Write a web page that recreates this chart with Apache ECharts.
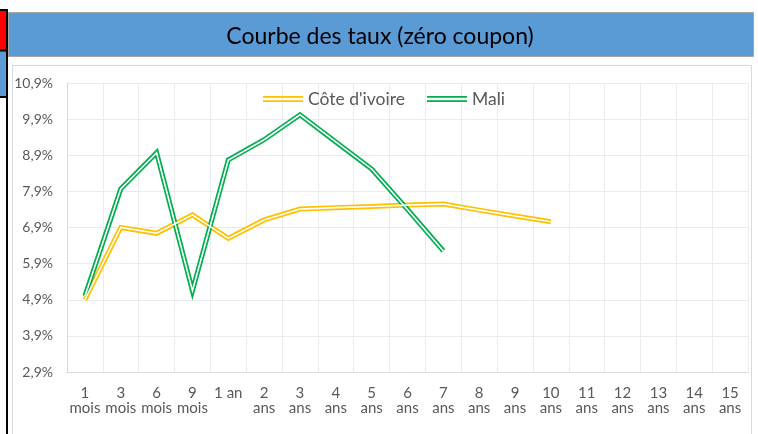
<!DOCTYPE html>
<html>
<head>
<meta charset="utf-8">
<script src="https://cdn.jsdelivr.net/npm/echarts@6/dist/echarts.min.js"></script>
<style>
  html, body { margin: 0; padding: 0; background: #fff; }
  #pic { width: 758px; height: 434px; }
</style>
</head>
<body>
<div id="pic"></div>
<script>
var categories = ['1\nmois', '3\nmois', '6\nmois', '9\nmois', '1 an', '2\nans', '3\nans', '4\nans', '5\nans',
  '6\nans', '7\nans', '8\nans', '9\nans', '10\nans', '11\nans', '12\nans', '13\nans', '14\nans', '15\nans'];
var civ = [4.9, 6.9, 6.74, 7.25, 6.6, 7.11, 7.41, 7.45, 7.48, 7.52, 7.55, 7.38, 7.22, 7.06];
var mali = [5.0, 7.97, 8.97, 5.15, 8.77, 9.33, 10.02, 9.27, 8.52, 7.4, 6.25];
var yTicks = { min: 2.9, max: 10.9, step: 1 };

var chart = echarts.init(document.getElementById('pic'));
var font = 'Lato';
var lineIcon = 'path://M0,0H40V1.7H0ZM0,4.3H40V6H0Z';

// double line = wide coloured stroke + thin white stroke on top
function outer(name, data, color) {
  return {
    name: name, type: 'line', data: data, symbol: 'none', z: 2,
    lineStyle: { color: color, width: 5, join: 'miter', miterLimit: 20 },
    itemStyle: { color: color },
    animation: false
  };
}
function inner(name, data) {
  return {
    name: name + '_in', type: 'line', data: data, symbol: 'none', z: 3,
    lineStyle: { color: '#fff', width: 1.6, join: 'miter', miterLimit: 20 },
    animation: false, silent: true
  };
}

var option = {
  backgroundColor: '#fff',
  title: {
    text: 'Courbe des taux (zéro coupon)',
    left: 375, top: 20, textAlign: 'center',
    textStyle: { fontFamily: font, fontSize: 23, fontWeight: 'normal', color: '#000' }
  },
  graphic: [
    { type: 'rect', shape: { x: 0, y: 10, width: 7, height: 40 }, style: { fill: '#ff0000' } },
    { type: 'rect', shape: { x: 0, y: 51, width: 7, height: 45 }, style: { fill: '#5b9bd5' } },
    { type: 'rect', shape: { x: 0, y: 9, width: 8, height: 2 }, style: { fill: '#000' } },
    { type: 'rect', shape: { x: 0, y: 49.5, width: 8, height: 2 }, style: { fill: '#000' } },
    { type: 'rect', shape: { x: 0, y: 96, width: 8, height: 2 }, style: { fill: '#000' } },
    { type: 'rect', shape: { x: 6, y: 9, width: 2, height: 425 }, style: { fill: '#000' } },
    { type: 'rect', shape: { x: 8.5, y: 12.5, width: 745, height: 44 },
      style: { fill: '#5b9bd5', stroke: '#a6a6a6', lineWidth: 1 }, z: -1 },
    { type: 'rect', shape: { x: 12.5, y: 65.5, width: 739, height: 380 },
      style: { fill: '#fff', stroke: '#d9d9d9', lineWidth: 1 }, z: -1 }
  ],
  legend: {
    data: ["Côte d'ivoire", 'Mali'],
    left: 258, top: 85,
    icon: lineIcon, itemWidth: 40, itemHeight: 6, itemGap: 22,
    textStyle: { fontFamily: font, fontSize: 17.5, color: '#595959' }
  },
  grid: { left: 67, right: 10, top: 83, bottom: 62 },
  xAxis: {
    type: 'category', data: categories, boundaryGap: true,
    axisTick: { show: false },
    axisLine: { lineStyle: { color: '#d9d9d9' } },
    splitLine: { show: true, lineStyle: { color: '#ebebeb' } },
    axisLabel: { interval: 0, margin: 14, lineHeight: 15, fontFamily: font, fontSize: 15, color: '#595959' }
  },
  yAxis: {
    type: 'value', min: yTicks.min, max: yTicks.max, interval: yTicks.step,
    axisLine: { show: true, lineStyle: { color: '#d9d9d9' } },
    axisTick: { show: false },
    splitLine: { lineStyle: { color: '#ebebeb' } },
    axisLabel: {
      margin: 14, fontFamily: font, fontSize: 14, color: '#595959',
      formatter: function (v) { return v.toFixed(1).replace('.', ',') + '%'; }
    }
  },
  series: [
    outer("Côte d'ivoire", civ, '#ffc000'),
    outer('Mali', mali, '#00b050'),
    inner("Côte d'ivoire", civ),
    inner('Mali', mali)
  ]
};
chart.setOption(option);
</script>
</body>
</html>
